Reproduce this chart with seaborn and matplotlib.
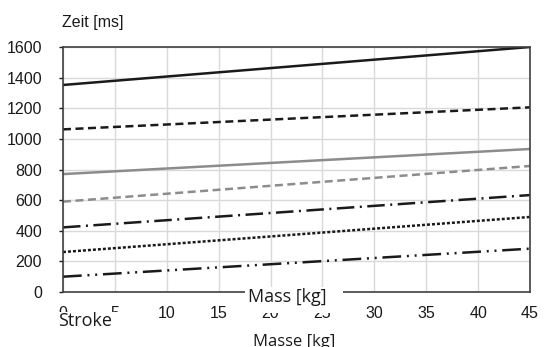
import matplotlib
matplotlib.use("Agg")
import matplotlib.pyplot as plt
from matplotlib.patches import Rectangle
import seaborn as sns
import pandas as pd

x_vals = [0, 45]
s1 = [1352, 1600]
s2 = [1062, 1206]
s3 = [770, 934]
s4 = [590, 823]
s5 = [422, 633]
s6 = [261, 490]
s7 = [100, 283]
series_names = ["s1", "s2", "s3", "s4", "s5", "s6", "s7"]
series_vals = [s1, s2, s3, s4, s5, s6, s7]
x_ticks = [0, 5, 10, 15, 20, 25, 30, 35, 40, 45]
y_ticks = [0, 200, 400, 600, 800, 1000, 1200, 1400, 1600]

rows = []
for n, vals in zip(series_names, series_vals):
    for xv, yv in zip(x_vals, vals):
        rows.append({"x": xv, "y": yv, "s": n})
df = pd.DataFrame(rows)

sns.set_theme(style="white")
plt.rcParams['font.family'] = ['Liberation Sans', 'DejaVu Sans']

W, H = 545, 347
fig = plt.figure(figsize=(5.45, 3.47), dpi=100)
ax = fig.add_axes([63/W, 55/H, 467/W, 245/H])

blk = "#1a1a1a"
gry = "#8c8c8c"
palette = {"s1": blk, "s2": blk, "s3": gry, "s4": gry, "s5": blk, "s6": blk, "s7": blk}
dashes = {"s1": "", "s2": (3.2, 1.8), "s3": "", "s4": (3.2, 1.8),
          "s5": (7, 2.2, 0.8, 2.2), "s6": (1.2, 0.8), "s7": (7.5, 2.3, 0.8, 2.3, 0.8, 2.3)}
sns.lineplot(data=df, x="x", y="y", hue="s", style="s", palette=palette,
             dashes=dashes, linewidth=1.8, ax=ax, legend=False)

ax.set_xlim(0, 45)
ax.set_ylim(0, 1600)
ax.set_xticks(x_ticks)
ax.set_yticks(y_ticks)
ax.grid(True, color="#d9d9d9", linewidth=1)
ax.set_axisbelow(True)
for sp in ax.spines.values():
    sp.set_color("#404040")
    sp.set_linewidth(1.2)
ax.tick_params(axis="both", labelsize=11.5, colors="#1a1a1a", width=1,
               direction="out", left=True, bottom=False)
ax.tick_params(axis="y", length=3, pad=12)
ax.tick_params(axis="x", length=0, pad=10)
ax.set_xlabel("")
ax.set_ylabel("")

def fx(px):
    return px / W

def fy(py):
    return 1 - py / H

fig.text(fx(62), fy(23), "Zeit [ms]", fontsize=11.5, ha="left", va="center", color="#1a1a1a")
fig.text(fx(294), fy(342), "Masse [kg]", fontsize=12, ha="center", va="center",
         color="#1a1a1a", family=["Open Sans", "DejaVu Sans"])

# white boxes overlapping axis / tick labels
fig.add_artist(Rectangle((fx(245), fy(313)), (343 - 245) / W, (313 - 287) / H,
                         transform=fig.transFigure, facecolor="white", edgecolor="none", zorder=5))
fig.text(fx(248), fy(297), "Mass [kg]", fontsize=13, ha="left", va="center",
         color="#1a1a1a", family=["Open Sans", "DejaVu Sans"], zorder=6)
fig.add_artist(Rectangle((fx(57), fy(336)), (120 - 57) / W, (336 - 312) / H,
                         transform=fig.transFigure, facecolor="white", edgecolor="none", zorder=5))
fig.text(fx(58), fy(321), "Stroke", fontsize=13, ha="left", va="center",
         color="#1a1a1a", family=["Open Sans", "DejaVu Sans"], zorder=6)

fig.savefig("out.png", dpi=100)
